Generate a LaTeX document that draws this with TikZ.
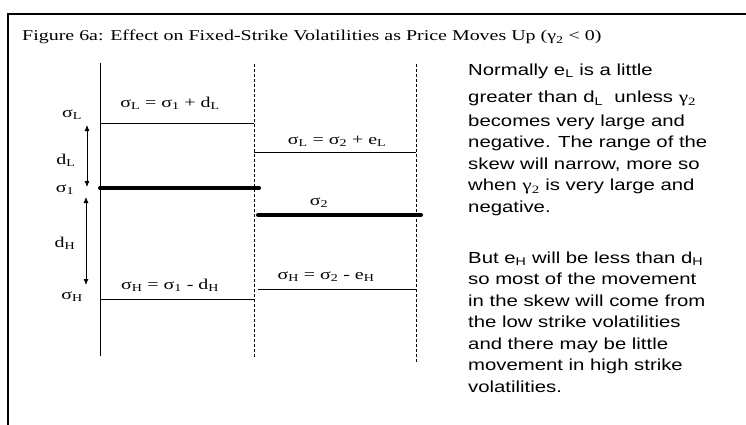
\documentclass[tikz,border=0pt]{standalone}
\usepackage{fontspec}
\setmainfont[FakeStretch=1.33]{Liberation Serif}
\newfontfamily\notefont[FakeStretch=1.27]{Liberation Sans}
\usepackage{tikz}
\usetikzlibrary{positioning,arrows.meta}
\newcommand{\gtwo}{{\rmfamily γ\textsubscript{2}}}

\begin{document}
\begin{tikzpicture}[
    x=1pt, y=-1pt,
    lbl/.style={font=\fontsize{15}{17}\selectfont, inner sep=0pt},
    level/.style={line width=0.8pt},
    pivot/.style={line width=4pt, line cap=round},
    divider/.style={line width=0.7pt, dash pattern=on 3pt off 2pt},
    gaparrow/.style={{Latex[length=6pt,width=5pt]}-{Latex[length=6pt,width=5pt]}, line width=0.8pt},
    note/.style={font=\notefont\fontsize{16}{21.5}\selectfont, align=left, inner sep=0pt, anchor=north west}
  ]
    \useasboundingbox (0,0) rectangle (746,425);
    \draw[line width=2pt] (746,14) -- (8,14) -- (8,425);
    \node[anchor=base west, inner sep=0pt, font=\fontsize{15}{17}\selectfont] (title) at (22,41)
      {Figure 6a: Effect on Fixed-Strike Volatilities as Price Moves Up (γ\textsubscript{2} < 0)};
    \coordinate (axt) at (100,63);
    \coordinate (axb) at (100,356);
    \coordinate (d1t) at (254,64);
    \coordinate (d1b) at (254,358);
    \coordinate (d2t) at (416,64);
    \coordinate (d2b) at (416,362);
    \draw[line width=1pt] (axt) -- (axb);
    \draw[divider] (d1t) -- (d1b);
    \draw[divider] (d2t) -- (d2b);
    \node[lbl] (sL) at (72,115) {σ\textsubscript{L}};
    \node[lbl] (dL) at (66,160) {d\textsubscript{L}};
    \node[lbl] (s1) at (65,190) {σ\textsubscript{1}};
    \node[lbl] (dH) at (65,243) {d\textsubscript{H}};
    \node[lbl] (sH) at (72,297) {σ\textsubscript{H}};
    \coordinate (aLt) at (87,125);
    \coordinate (aLb) at (87,187);
    \coordinate (aHt) at (86,197);
    \coordinate (aHb) at (86,285);
    \draw[gaparrow] (aLt) -- (aLb);
    \draw[gaparrow] (aHt) -- (aHb);
    \node[lbl] (eqL1) at (170,103) {σ\textsubscript{L} = σ\textsubscript{1} + d\textsubscript{L}};
    \node[lbl] (eqH1) at (170,285) {σ\textsubscript{H} = σ\textsubscript{1} - d\textsubscript{H}};
    \node[lbl] (eqL2) at (337,141) {σ\textsubscript{L} = σ\textsubscript{2} + e\textsubscript{L}};
    \node[lbl] (s2) at (319,203) {σ\textsubscript{2}};
    \node[lbl] (eqH2) at (326,277) {σ\textsubscript{H} = σ\textsubscript{2} - e\textsubscript{H}};
    \coordinate (L1a) at (100,123);
    \coordinate (L1b) at (254,123);
    \coordinate (M1a) at (100,188);
    \coordinate (M1b) at (259,188);
    \coordinate (H1a) at (100,299);
    \coordinate (H1b) at (254,299);
    \coordinate (L2a) at (254,152);
    \coordinate (L2b) at (416,152);
    \coordinate (M2a) at (258,215);
    \coordinate (M2b) at (421,215);
    \coordinate (H2a) at (258,289);
    \coordinate (H2b) at (417,289);
    \draw[level] (L1a) -- (L1b);
    \draw[pivot] (M1a) -- (M1b);
    \draw[level] (H1a) -- (H1b);
    \draw[level] (L2a) -- (L2b);
    \draw[pivot] (M2a) -- (M2b);
    \draw[level] (H2a) -- (H2b);
    \node[note] (n1) at (468,63.5) {Normally e\textsubscript{L} is a little\\[6pt]
      greater than d\textsubscript{L}~ unless \gtwo\\[2pt]
      becomes very large and\\
      negative. The range of the\\
      skew will narrow, more so\\
      when \gtwo{} is very large and\\
      negative.};
    \node[note] (n2) at (468,251.5) {But e\textsubscript{H} will be less than d\textsubscript{H}\\
      so most of the movement\\
      in the skew will come from\\
      the low strike volatilities\\
      and there may be little\\
      movement in high strike\\
      volatilities.};
  \end{tikzpicture}
\end{document}
